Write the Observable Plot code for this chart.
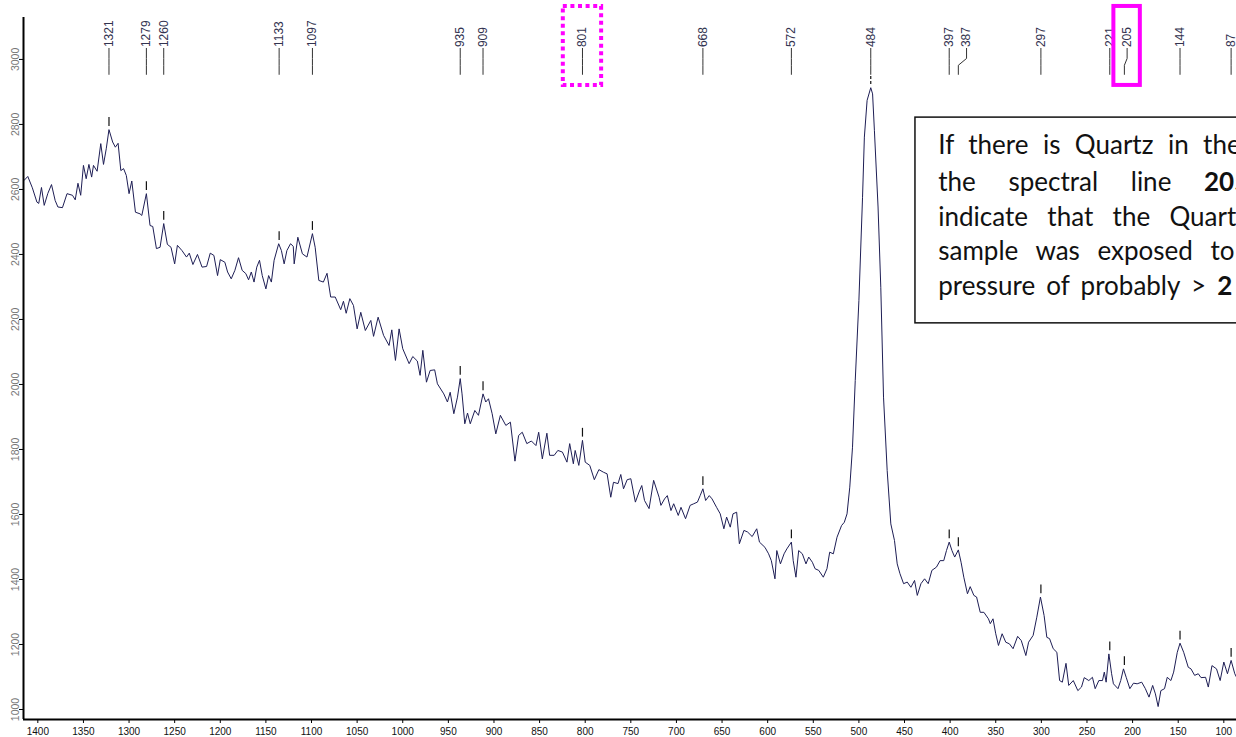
<!DOCTYPE html>
<html><head><meta charset="utf-8">
<script src="https://cdn.jsdelivr.net/npm/d3@7"></script>
<script src="https://cdn.jsdelivr.net/npm/@observablehq/plot@0.6"></script>
<style>
html,body{margin:0;padding:0;background:#fff;overflow:hidden}
#chart svg{display:block}
</style></head><body><div id="chart"></div>
<script>
// Raman shift (cm-1) and intensity
const wavenumber = [1415,1411,1406,1401,1399,1396,1393,1389,1385,1381,1378,1373,1368,1362,1359,1356,1353,1350,1347,1344,1341,1339,1335,1331,1328,1325,1322,1318,1315,1312,1309,1306,1303,1300,1297,1293,1288,1286,1281,1277,1274,1270,1266,1262,1258,1254,1250,1247,1242,1237,1234,1230,1225,1220,1215,1211,1207,1203,1200,1195,1192,1188,1184,1180,1176,1172,1169,1166,1163,1160,1157,1154,1150,1147,1144,1141,1136,1133,1130,1127,1123,1120,1119,1115,1110,1105,1099,1096,1092,1087,1083,1079,1074,1068,1065,1062,1058,1054,1050,1046,1041,1035,1032,1027,1021,1015,1012,1008,1004,1000,993,989,984,981,978,974,970,965,962,955,951,948,944,940,937,935,932,929,926,921,917,912,909,906,902,898,893,887,882,877,873,869,864,859,854,851,847,842,839,834,830,825,820,817,813,811,807,803,800,795,790,785,780,776,772,769,764,761,758,754,750,745,741,738,735,730,725,719,717,713,710,706,703,698,695,690,685,681,677,674,671,668,664,661,656,652,648,645,641,638,634,631,626,622,617,612,609,603,599,596,592,590,586,582,579,574,572,569,566,562,558,555,551,548,544,539,535,532,528,524,519,516,513,510,507,504,500,496,494,491,487,485,483,479,476,473,469,465,461,458,455,451,447,443,439,436,432,428,424,420,415,411,407,404,401,398,395,391,388,385,381,378,374,371,367,363,358,356,353,350,347,343,339,335,331,326,322,317,314,309,305,301,297,294,291,287,283,280,277,273,270,265,260,256,253,248,244,241,237,233,231,229,226,223,221,216,213,210,207,203,199,195,190,186,182,178,175,172,169,165,162,158,155,151,148,144,139,136,132,128,125,120,117,113,108,104,100,96,92,88,86];
const intensity = [2628,2640,2605,2561,2557,2606,2551,2588,2615,2566,2546,2544,2587,2582,2568,2619,2582,2674,2633,2677,2638,2674,2656,2741,2677,2725,2784,2746,2730,2742,2658,2664,2643,2587,2626,2530,2525,2520,2587,2489,2486,2418,2422,2495,2431,2422,2371,2428,2412,2392,2404,2369,2400,2361,2363,2404,2397,2335,2384,2376,2346,2325,2351,2390,2351,2341,2322,2346,2315,2361,2382,2335,2294,2335,2315,2382,2433,2412,2371,2412,2433,2425,2371,2453,2402,2392,2464,2422,2320,2315,2342,2269,2269,2230,2256,2219,2264,2243,2171,2222,2166,2197,2148,2207,2151,2120,2168,2074,2171,2110,2064,2086,2072,2028,2105,2007,2043,2045,2002,1971,1946,1976,1910,1961,2018,1971,1879,1912,1879,1920,1905,1971,1946,1956,1910,1848,1905,1874,1884,1764,1843,1853,1818,1826,1812,1853,1771,1850,1782,1782,1797,1792,1761,1818,1756,1797,1751,1828,1761,1751,1707,1738,1730,1725,1653,1699,1695,1723,1679,1707,1710,1638,1669,1689,1643,1618,1705,1653,1628,1648,1658,1612,1633,1597,1622,1587,1628,1633,1638,1658,1679,1643,1658,1648,1622,1602,1556,1592,1561,1602,1607,1510,1551,1546,1532,1556,1515,1499,1479,1458,1402,1489,1448,1479,1494,1515,1458,1407,1489,1479,1448,1469,1453,1433,1428,1407,1433,1484,1479,1530,1566,1576,1602,1684,1807,2012,2258,2576,2761,2874,2913,2894,2782,2546,2299,1961,1735,1571,1520,1448,1418,1387,1392,1376,1397,1351,1387,1402,1387,1428,1438,1458,1458,1489,1515,1489,1469,1491,1453,1407,1356,1378,1351,1346,1299,1299,1279,1264,1279,1233,1197,1233,1207,1202,1187,1225,1212,1166,1207,1228,1284,1346,1289,1222,1218,1187,1176,1089,1084,1142,1074,1089,1058,1069,1098,1089,1099,1064,1089,1089,1115,1084,1171,1110,1079,1064,1089,1125,1099,1064,1081,1079,1084,1064,1038,1074,1048,1009,1058,1064,1099,1089,1115,1176,1204,1176,1130,1125,1105,1110,1098,1099,1069,1135,1125,1089,1146,1110,1151,1110,1099];

// Peak annotations
const peakLabel = [1321,1279,1260,1133,1097,935,909,801,668,572,484,397,387,297,221,205,144,87];
const peakPos   = [1322,1281,1262,1135.5,1099,937,912,803,671,574,487,401,391,300.5,225,209,148,92];
const labelPos  = [1322,1281,1262,1135.5,1099,937,912,803,671,574,487,401,382,300.5,225,206,148,92];
const peakTop   = [2784,2587,2495,2433,2464,2018,1971,1828,1679,1515,2913,1515,1491,1346,1171,1125,1204,1151];

const xTicks = [1400,1350,1300,1250,1200,1150,1100,1050,1000,950,900,850,800,750,700,650,600,550,500,450,400,350,300,250,200,150,100];
const yTicks = [1000,1200,1400,1600,1800,2000,2200,2400,2600,2800,3000];

const highlightLabel = [801, 205];
const highlightDotted = [true, false];

const noteText = [
  [{t: "If there is Quartz in the"}],
  [{t: "the spectral line "}, {t: "205", b: true}],
  [{t: "indicate that the Quartz"}],
  [{t: "sample was exposed to"}],
  [{t: "pressure of probably > "}, {t: "2", b: true}]
];
</script>
<script>
// ----- layout constants (not data) -----
const X_DOMAIN = [1415.7, 86.1];
const Y_DOMAIN = [969.2, 3129];
const LABEL_Y = 3038, LINE_TOP = 3034, BEND_TOP = 3003, BEND_BOTTOM = 2982, LINE_BOTTOM = 2954;
const NOTE_X = 413, NOTE_Y = [2734, 2620, 2513, 2407, 2301];
const NOTE_BOX = {x1: 438, x2: 40, y1: 2821, y2: 2188};
const NOTE_SPACING = [7.8, 26, 12.7, 11, 4.5];
const HL_HALF = {801: 21, 205: 14.5};
const HL_Y = [3163, 2920];
const fmt = d => String(d);

const spectrum = wavenumber.map((w, i) => ({w, v: intensity[i]}));
const peaks = peakLabel.map((label, i) => ({label, pos: peakPos[i], labelPos: labelPos[i], top: peakTop[i]}));
const connectors = peaks.flatMap(d => [
  {label: d.label, x: d.labelPos, y: LINE_TOP},
  {label: d.label, x: d.labelPos, y: BEND_TOP},
  {label: d.label, x: d.pos, y: BEND_BOTTOM},
  {label: d.label, x: d.pos, y: LINE_BOTTOM}
]);
const highlights = highlightLabel.map((label, i) => {
  const p = peaks.find(d => d.label === label);
  return {label, x1: p.labelPos + HL_HALF[label], x2: p.labelPos - HL_HALF[label], dotted: highlightDotted[i]};
});
const notes = noteText.map((parts, i) => ({parts, y: NOTE_Y[i], text: parts.map(p => p.t).join("")}));

const chart = Plot.plot({
  width: 1236, height: 737,
  marginLeft: 23, marginRight: 0, marginTop: 17, marginBottom: 18,
  style: {fontFamily: "'Liberation Sans', Arial, sans-serif", background: "#fff", overflow: "hidden"},
  x: {domain: X_DOMAIN},
  y: {domain: Y_DOMAIN},
  marks: [
    Plot.axisX({ticks: xTicks, tickFormat: fmt, tickSize: 4, tickPadding: 4, fontSize: 10, fill: "#111", stroke: "#000", label: null}),
    Plot.axisY({ticks: yTicks, tickFormat: fmt, tickSize: 4, tickRotate: -90, tickPadding: 1, fontSize: 10.5, fill: "#777", stroke: "#000", label: null}),
    Plot.line(spectrum, {x: "w", y: "v", stroke: "#1e1e55", strokeWidth: 1}),
    Plot.ruleX(peaks.filter(d => d.label !== 484), {x: "pos", y1: d => d.top + 10, y2: d => d.top + 37, stroke: "#111", strokeWidth: 1.2}),
    Plot.ruleX(peaks.filter(d => d.label === 484), {x: "pos", y1: d => d.top + 10, y2: d => d.top + 37, stroke: "#111", strokeWidth: 1.2, strokeDasharray: "3,2"}),
    Plot.line(connectors, {x: "x", y: "y", z: "label", stroke: "#333", strokeWidth: 1}),
    Plot.text(peaks, {x: "labelPos", y: () => LABEL_Y, text: d => String(d.label), rotate: -90, textAnchor: "start", fontSize: 12, fill: "#333350"}),
    Plot.rect(highlights.filter(d => d.dotted), {x1: "x1", x2: "x2", y1: () => HL_Y[0], y2: () => HL_Y[1], fill: "none", stroke: "#ff00ff", strokeWidth: 4, strokeDasharray: "4,3.6"}),
    Plot.rect(highlights.filter(d => !d.dotted), {x1: "x1", x2: "x2", y1: () => HL_Y[0], y2: () => HL_Y[1], fill: "none", stroke: "#ff00ff", strokeWidth: 4}),
    Plot.rect([NOTE_BOX], {x1: "x1", x2: "x2", y1: "y1", y2: "y2", fill: "#fff", stroke: "#111", strokeWidth: 1.5}),
    Plot.text(notes, {x: () => NOTE_X, y: "y", text: "text", textAnchor: "start", fontFamily: "Lato, 'Open Sans', sans-serif", fontSize: 26, fill: "#111"}),
    Plot.ruleX([X_DOMAIN[0]], {stroke: "#000", strokeWidth: 2}),
    Plot.ruleY([Y_DOMAIN[0]], {stroke: "#000", strokeWidth: 2})
  ]
});

// justify the note lines and set the bold parts
d3.select(chart).selectAll("text").each(function() {
  const i = notes.findIndex(n => n.text === this.textContent);
  if (i < 0) return;
  const el = d3.select(this);
  el.text(null).attr("word-spacing", NOTE_SPACING[i]).style("word-spacing", NOTE_SPACING[i] + "px");
  notes[i].parts.forEach(p => el.append("tspan").attr("font-weight", p.b ? 700 : null).text(p.t));
});

document.getElementById("chart").appendChild(chart);
</script>
</body></html>
